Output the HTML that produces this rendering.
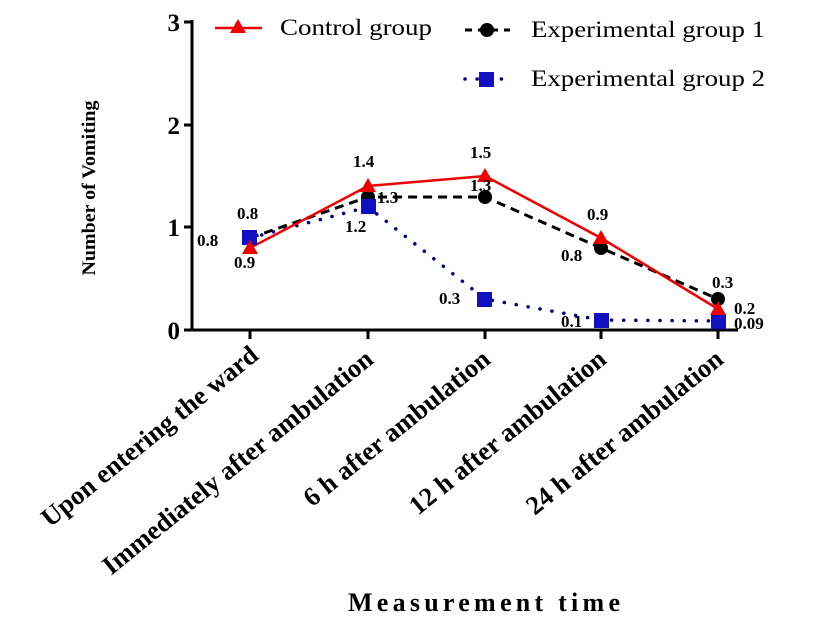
<!DOCTYPE html>
<html><head><style>
body{margin:0;background:#fff;}
svg{display:block;font-family:"Liberation Serif",serif;}
</style></head><body>
<svg width="814" height="643" viewBox="0 0 814 643" xmlns="http://www.w3.org/2000/svg">
<g stroke="#000" stroke-width="3" fill="none">
<line x1="192" y1="20" x2="192" y2="331"/>
<line x1="190" y1="330" x2="738" y2="330"/>
<line x1="184" y1="22" x2="192" y2="22"/>
<line x1="184" y1="125" x2="192" y2="125"/>
<line x1="184" y1="227" x2="192" y2="227"/>
<line x1="184" y1="330" x2="192" y2="330"/>
<line x1="250" y1="330" x2="250" y2="339"/>
<line x1="368" y1="330" x2="368" y2="339"/>
<line x1="485" y1="330" x2="485" y2="339"/>
<line x1="601" y1="330" x2="601" y2="339"/>
<line x1="718" y1="330" x2="718" y2="339"/>
</g>
<g font-size="25" font-weight="bold" text-anchor="end">
<text x="180" y="31">3</text><text x="180" y="134">2</text><text x="180" y="236">1</text><text x="180" y="339">0</text>
</g>
<text transform="translate(95,188) rotate(-90)" font-size="19" font-weight="bold" text-anchor="middle" textLength="175" lengthAdjust="spacingAndGlyphs">Number of Vomiting</text>
<polyline points="250,238 368,197 485,197 601,248 718,299" fill="none" stroke="#000" stroke-width="3" stroke-dasharray="9,6"/>
<polyline points="250,238 368,207 485,299 601,320 718,321" fill="none" stroke="#00008b" stroke-width="3.5" stroke-dasharray="0.1,12" stroke-linecap="round"/>
<polyline points="250,248 368,186 485,176 601,238 718,309" fill="none" stroke="#e00" stroke-width="2.5"/>
<g fill="#000"><circle cx="368" cy="197" r="7"/><circle cx="485" cy="197" r="7"/><circle cx="601" cy="248" r="7"/><circle cx="718" cy="299" r="7"/></g>
<g fill="#1010c0"><rect x="242" y="230" width="15" height="15"/><rect x="361" y="199" width="15" height="15"/><rect x="477" y="292" width="15" height="15"/><rect x="594" y="313" width="15" height="15"/><rect x="711" y="314" width="15" height="15"/></g>
<g fill="#e00"><polygon points="250,240 242,254 258,254"/><polygon points="368,178 360,192 376,192"/><polygon points="485,168 477,182 493,182"/><polygon points="601,230 593,244 609,244"/><polygon points="718,301 710,315 726,315"/></g>
<g font-size="17" font-weight="bold">
<text x="237" y="219">0.8</text><text x="197" y="246">0.8</text><text x="234" y="268">0.9</text>
<text x="353" y="167">1.4</text><text x="377" y="203">1.3</text><text x="345" y="232">1.2</text>
<text x="470" y="158">1.5</text><text x="470" y="191">1.3</text><text x="439" y="304">0.3</text>
<text x="587" y="220">0.9</text><text x="561" y="261">0.8</text><text x="561" y="327">0.1</text>
<text x="712" y="288">0.3</text><text x="734" y="314">0.2</text><text x="734" y="329">0.09</text>
</g>
<line x1="215" y1="28" x2="262" y2="28" stroke="#e00" stroke-width="2.5"/>
<polygon points="238,19 230,33 246,33" fill="#e00"/>
<text x="280" y="35" font-size="23" textLength="152" lengthAdjust="spacingAndGlyphs">Control group</text>
<line x1="465" y1="30" x2="510" y2="30" stroke="#000" stroke-width="3" stroke-dasharray="7,6"/>
<circle cx="487" cy="30" r="7" fill="#000"/>
<text x="531" y="37" font-size="23" textLength="234" lengthAdjust="spacingAndGlyphs">Experimental group 1</text>
<line x1="465" y1="79" x2="510" y2="79" stroke="#00008b" stroke-width="3.5" stroke-dasharray="0.1,12" stroke-linecap="round"/>
<rect x="479" y="72" width="15" height="15" fill="#1010c0"/>
<text x="531" y="86" font-size="23" textLength="234" lengthAdjust="spacingAndGlyphs">Experimental group 2</text>
<g font-size="26.5" font-weight="bold" text-anchor="end">
<text transform="translate(260,358) rotate(-39)">Upon entering the ward</text>
<text transform="translate(375,362) rotate(-39)">Immediately after ambulation</text>
<text transform="translate(492,362) rotate(-39)">6 h after ambulation</text>
<text transform="translate(608,362) rotate(-39)">12 h after ambulation</text>
<text transform="translate(725,362) rotate(-39)">24 h after ambulation</text>
</g>
<text x="484" y="611" font-size="26" font-weight="bold" text-anchor="middle" textLength="272" lengthAdjust="spacing">Measurement time</text>
</svg>
</body></html>
